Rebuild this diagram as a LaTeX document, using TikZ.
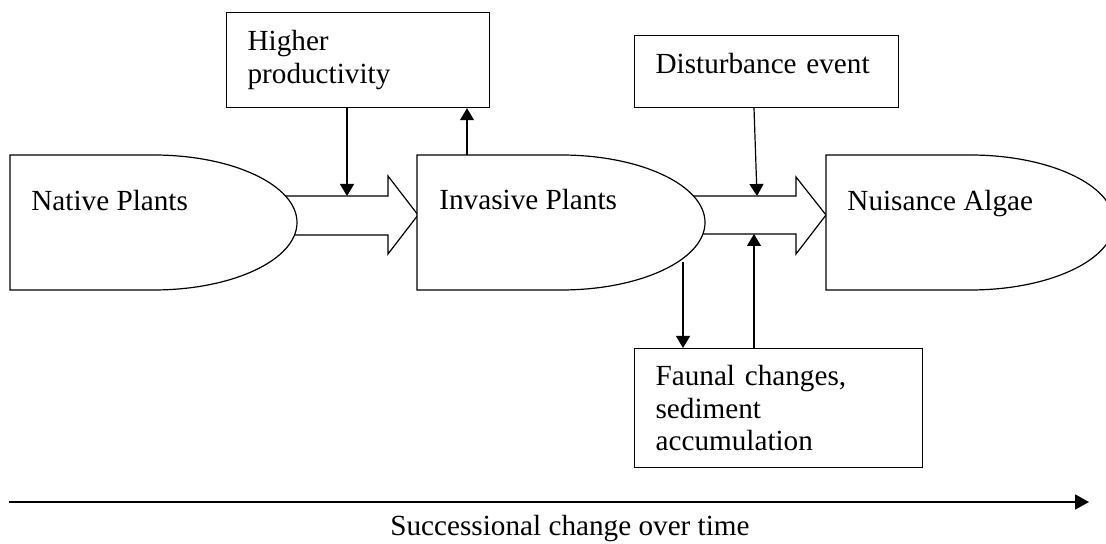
\documentclass[tikz,border=0pt]{standalone}
\usepackage{fontspec}
\setmainfont{Liberation Serif}
\usetikzlibrary{arrows.meta}
\begin{document}
\begin{tikzpicture}[x=0.5pt,y=-0.5pt,
  every node/.style={font=\fontsize{14.6}{16.4}\selectfont},
  box/.style={draw, line width=0.6pt, anchor=north west, align=left, inner xsep=10.5pt, inner ysep=0pt},
  conn/.style={line width=0.6pt, -{Triangle[length=6pt,width=7pt]}},
  outline/.style={draw, line width=0.6pt, fill=white},
  lbl/.style={anchor=base west, inner sep=0pt}]

\useasboundingbox (0,0) rectangle (1106,544);

% block arrows
\draw[outline] (280,196) -- (388,196) -- (388,176) -- (418,215) -- (388,254) -- (388,235) -- (280,235) -- cycle;
\draw[outline] (688,196) -- (796,196) -- (796,177) -- (826,215) -- (796,254) -- (796,234) -- (688,234) -- cycle;

% delay shapes
\path[outline] (10,155) -- (153.5,155) .. controls (232.75,155) and (297,185.22) .. (297,222.5)
  .. controls (297,259.78) and (232.75,290) .. (153.5,290) -- (10,290) -- cycle;
\path[outline] (417,155) -- (561,155) .. controls (640.53,155) and (705,185.22) .. (705,222.5)
  .. controls (705,259.78) and (640.53,290) .. (561,290) -- (417,290) -- cycle;
\path[outline] (826,155) -- (970,155) .. controls (1049.53,155) and (1114,185.22) .. (1114,222.5)
  .. controls (1114,259.78) and (1049.53,290) .. (970,290) -- (826,290) -- cycle;

\node[lbl] (native) at (31,211) {Native Plants};
\node[lbl] (invasive) at (439,210) {Invasive Plants};
\node[lbl] (algae) at (847,211) {Nuisance Algae};

\node[box, text width=110.5pt, minimum height=47.5pt] (hp) at (226,12) {Higher\\productivity};
\node[box, text width=111pt, minimum height=36pt, text depth=8pt] (dist) at (634,35) {Disturbance event};
\node[box, text width=123pt, minimum height=59.5pt] (faunal) at (634,348) {Faunal changes,\\sediment\\accumulation};

\coordinate (a1top) at (347,196);
\coordinate (a2top) at (757,196);
\coordinate (a2bot) at (754,234);
\coordinate (invtop) at (467,155);
\coordinate (invbot) at (683,262);

\draw[conn] (347,0 |- hp.south) -- (a1top);
\draw[conn] (invtop) -- (467,0 |- hp.south);
\draw[conn] (754,0 |- dist.south) -- (a2top);
\draw[conn] (invbot) -- (683,0 |- faunal.north);
\draw[conn] (754,0 |- faunal.north) -- (a2bot);

\coordinate (t0) at (9,502);
\coordinate (t1) at (1089,502);
\draw[line width=0.9pt, -{Triangle[length=7pt,width=7.5pt]}] (t0) -- (t1);
\node[anchor=base] (succ) at (570,535) {Successional change over time};
\end{tikzpicture}
\end{document}
